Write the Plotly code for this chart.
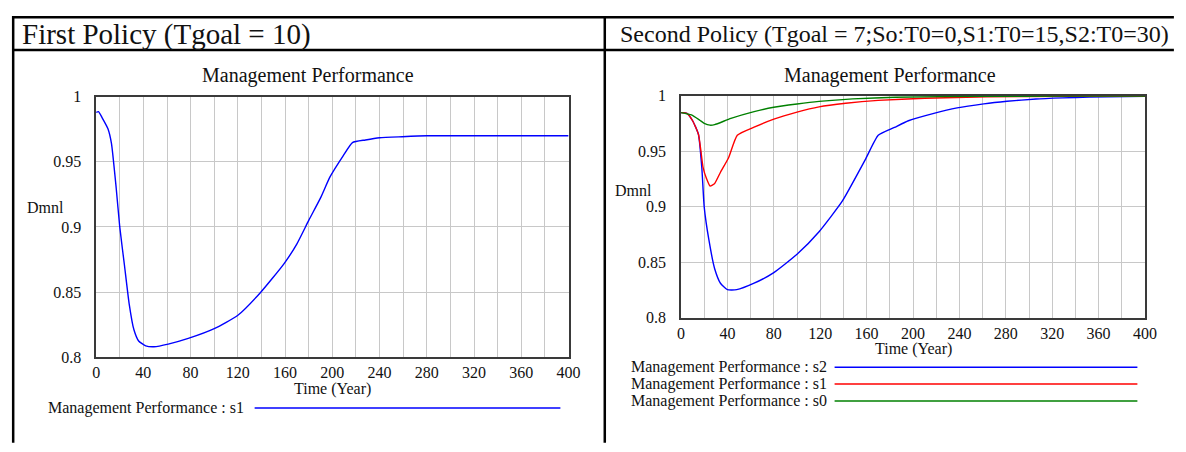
import plotly.graph_objects as go

# ---------------- data ----------------
left_time = [0, 2, 5, 10, 13, 17, 20, 24, 28, 32, 36, 42, 49, 61, 78, 100, 120, 139,
             159, 170, 180, 190, 198, 209, 217, 228, 240, 259, 280, 300, 400]
left_s1 = [0.988, 0.9885, 0.984, 0.9754, 0.964, 0.9297, 0.900, 0.8704, 0.8408, 0.821,
           0.8124, 0.8087, 0.808, 0.810, 0.8144, 0.8219, 0.8322, 0.8495, 0.8717, 0.887,
           0.905, 0.9223, 0.9384, 0.9544, 0.9648, 0.9668, 0.9685, 0.9693, 0.970, 0.970, 0.970]

s2_time = [0, 5, 10, 15, 18, 20, 24, 29, 34, 40, 48, 63, 80, 100, 119, 139, 159, 170,
           184, 196, 218, 238, 261, 281, 306, 329, 352, 400]
s2_vals = [0.9848, 0.9842, 0.9775, 0.9653, 0.934, 0.8997, 0.8703, 0.8442, 0.8311, 0.8253,
           0.8253, 0.8311, 0.8407, 0.8572, 0.8775, 0.905, 0.9427, 0.9644, 0.9715, 0.9775,
           0.9842, 0.9891, 0.9927, 0.995, 0.9971, 0.9981, 0.9988, 0.9996]

s1_time = [0, 5, 10, 15, 17, 19, 22, 25, 29, 34, 41, 48.5, 63, 80, 100, 119, 142, 170,
           210, 264, 330, 400]
s1_vals = [0.9848, 0.9842, 0.9775, 0.9653, 0.9514, 0.9355, 0.9253, 0.9187, 0.921, 0.9311,
           0.9442, 0.9644, 0.9717, 0.979, 0.9853, 0.990, 0.9932, 0.9958, 0.9978,
           0.999, 0.9995, 0.9997]

s0_time = [0, 9, 16, 20, 25, 29, 43, 63, 80, 100, 119, 148, 185, 260, 330, 400]
s0_vals = [0.9848, 0.9827, 0.9781, 0.9752, 0.9735, 0.974, 0.9796, 0.9857, 0.9897, 0.9926,
           0.9949, 0.9972, 0.9987, 0.9995, 0.9997, 0.9998]

x_ticks = [0, 40, 80, 120, 160, 200, 240, 280, 320, 360, 400]
y_ticks = [0.8, 0.85, 0.9, 0.95, 1.0]
y_tick_text = ["0.8", "0.85", "0.9", "0.95", "1"]

left_header = "First Policy (Tgoal = 10)"
right_header = "Second Policy (Tgoal = 7;So:T0=0,S1:T0=15,S2:T0=30)"
chart_title = "Management Performance"
x_title = "Time (Year)"
y_unit = "Dmnl"
left_names = ["Management Performance : s1"]
right_names = ["Management Performance : s2", "Management Performance : s1",
               "Management Performance : s0"]
BLUE, RED, GREEN = "#0000ff", "#ff0000", "#008000"

# ---------------- layout helpers ----------------
# The page keeps its default 8px body margin, so the figure is 16px smaller than
# the 1186x452 window; positions below are written in window pixels.
PAGE_W, PAGE_H, OFF = 1186, 452, 8
W, H = PAGE_W - 2 * OFF, PAGE_H - 2 * OFF
FONT = "Liberation Serif, Times New Roman, serif"


def fx(px):
    return (px - OFF) / W


def fy(py):
    return 1 - (py - OFF) / H


fig = go.Figure()
fig.add_trace(go.Scatter(x=left_time, y=left_s1, mode="lines", name=left_names[0],
                         line=dict(color=BLUE, width=1.4, shape="spline", smoothing=0.5),
                         xaxis="x", yaxis="y", showlegend=False))
right_series = [(s2_time, s2_vals, BLUE), (s1_time, s1_vals, RED), (s0_time, s0_vals, GREEN)]
for (t, v, c), nm in zip(right_series, right_names):
    fig.add_trace(go.Scatter(x=t, y=v, mode="lines", name=nm,
                             line=dict(color=c, width=1.4, shape="spline", smoothing=0.5),
                             xaxis="x2", yaxis="y2", showlegend=False))

grid = "#c8c8c8"
frame = "#3a3a3a"


def xaxis(domain, anchor):
    return dict(domain=domain, anchor=anchor, range=[0, 400], tickvals=x_ticks,
                ticks="", showgrid=True, gridcolor=grid, gridwidth=1,
                minor=dict(dtick=20, showgrid=True, gridcolor=grid, gridwidth=1),
                showline=True, linecolor=frame, linewidth=1.5, mirror=True,
                zeroline=False, tickfont=dict(family=FONT, size=16, color="#111"),
                ticklabelstandoff=0, fixedrange=True)


def yaxis(domain, anchor):
    return dict(domain=domain, anchor=anchor, range=[0.8, 1.0], tickvals=y_ticks,
                ticktext=y_tick_text, ticks="", showgrid=True, gridcolor=grid,
                gridwidth=1, showline=True, linecolor=frame, linewidth=1.5,
                mirror=True, zeroline=False,
                tickfont=dict(family=FONT, size=16, color="#111"),
                ticklabelstandoff=10, fixedrange=True)


L_x0, L_x1, L_y0, L_y1 = 93.3, 572.3, 363, 92
R_x0, R_x1, R_y0, R_y1 = 686.3, 1156.7, 322, 91

fig.update_layout(
    width=W, height=H, margin=dict(l=0, r=0, t=0, b=0, pad=0),
    paper_bgcolor="white", plot_bgcolor="white",
    font=dict(family=FONT, color="#111"),
    xaxis=xaxis([fx(L_x0), fx(L_x1)], "y"),
    yaxis=yaxis([fy(L_y0), fy(L_y1)], "x"),
    xaxis2=xaxis([fx(R_x0), fx(R_x1)], "y2"),
    yaxis2=yaxis([fy(R_y0), fy(R_y1)], "x2"),
)

shapes = []
# table borders
shapes.append(dict(type="line", xref="paper", yref="paper", x0=fx(8), x1=fx(1186),
                   y0=fy(9.2), y1=fy(9.2), line=dict(color="black", width=2.5)))
shapes.append(dict(type="line", xref="paper", yref="paper", x0=fx(8), x1=fx(1186),
                   y0=fy(43.5), y1=fy(43.5), line=dict(color="black", width=2.5)))
shapes.append(dict(type="line", xref="paper", yref="paper", x0=fx(9.2), x1=fx(9.2),
                   y0=fy(8), y1=fy(452), line=dict(color="black", width=2.5)))
shapes.append(dict(type="line", xref="paper", yref="paper", x0=fx(609), x1=fx(609),
                   y0=fy(8), y1=fy(452), line=dict(color="black", width=2.5)))

# custom legends (text followed by a sample line)
left_leg = [(left_names[0], BLUE, 416)]
for nm, c, y in left_leg:
    shapes.append(dict(type="line", xref="paper", yref="paper", x0=fx(254), x1=fx(564),
                       y0=fy(y), y1=fy(y), line=dict(color=c, width=1.5)))
right_leg_y = [373.5, 391, 408.5]
for nm, c, y in zip(right_names, [BLUE, RED, GREEN], right_leg_y):
    shapes.append(dict(type="line", xref="paper", yref="paper", x0=fx(842), x1=fx(1149),
                       y0=fy(y), y1=fy(y), line=dict(color=c, width=1.5)))

annotations = []


def txt(text, x, y, size, xanchor="center", yanchor="middle"):
    annotations.append(dict(text=text, x=fx(x), y=fy(y), xref="paper", yref="paper",
                            showarrow=False, xanchor=xanchor, yanchor=yanchor,
                            font=dict(family=FONT, size=size, color="#111")))


txt(left_header, 16, 27, 29, xanchor="left")
txt(right_header, 622, 27, 24, xanchor="left")
txt(chart_title, 308, 70, 20)
txt(chart_title, 898, 70, 20)
txt(x_title, (L_x0 + L_x1) / 2, 396, 16)
txt(x_title, (R_x0 + R_x1) / 2, 355, 16)
txt(y_unit, 42, 207, 16)
txt(y_unit, 638, 190, 16)
for nm, c, y in left_leg:
    txt(nm, 245, y, 16, xanchor="right")
for nm, y in zip(right_names, right_leg_y):
    txt(nm, 836, y, 16, xanchor="right")

fig.update_layout(shapes=shapes, annotations=annotations)
fig.write_html("out.html", config={"displayModeBar": False})
